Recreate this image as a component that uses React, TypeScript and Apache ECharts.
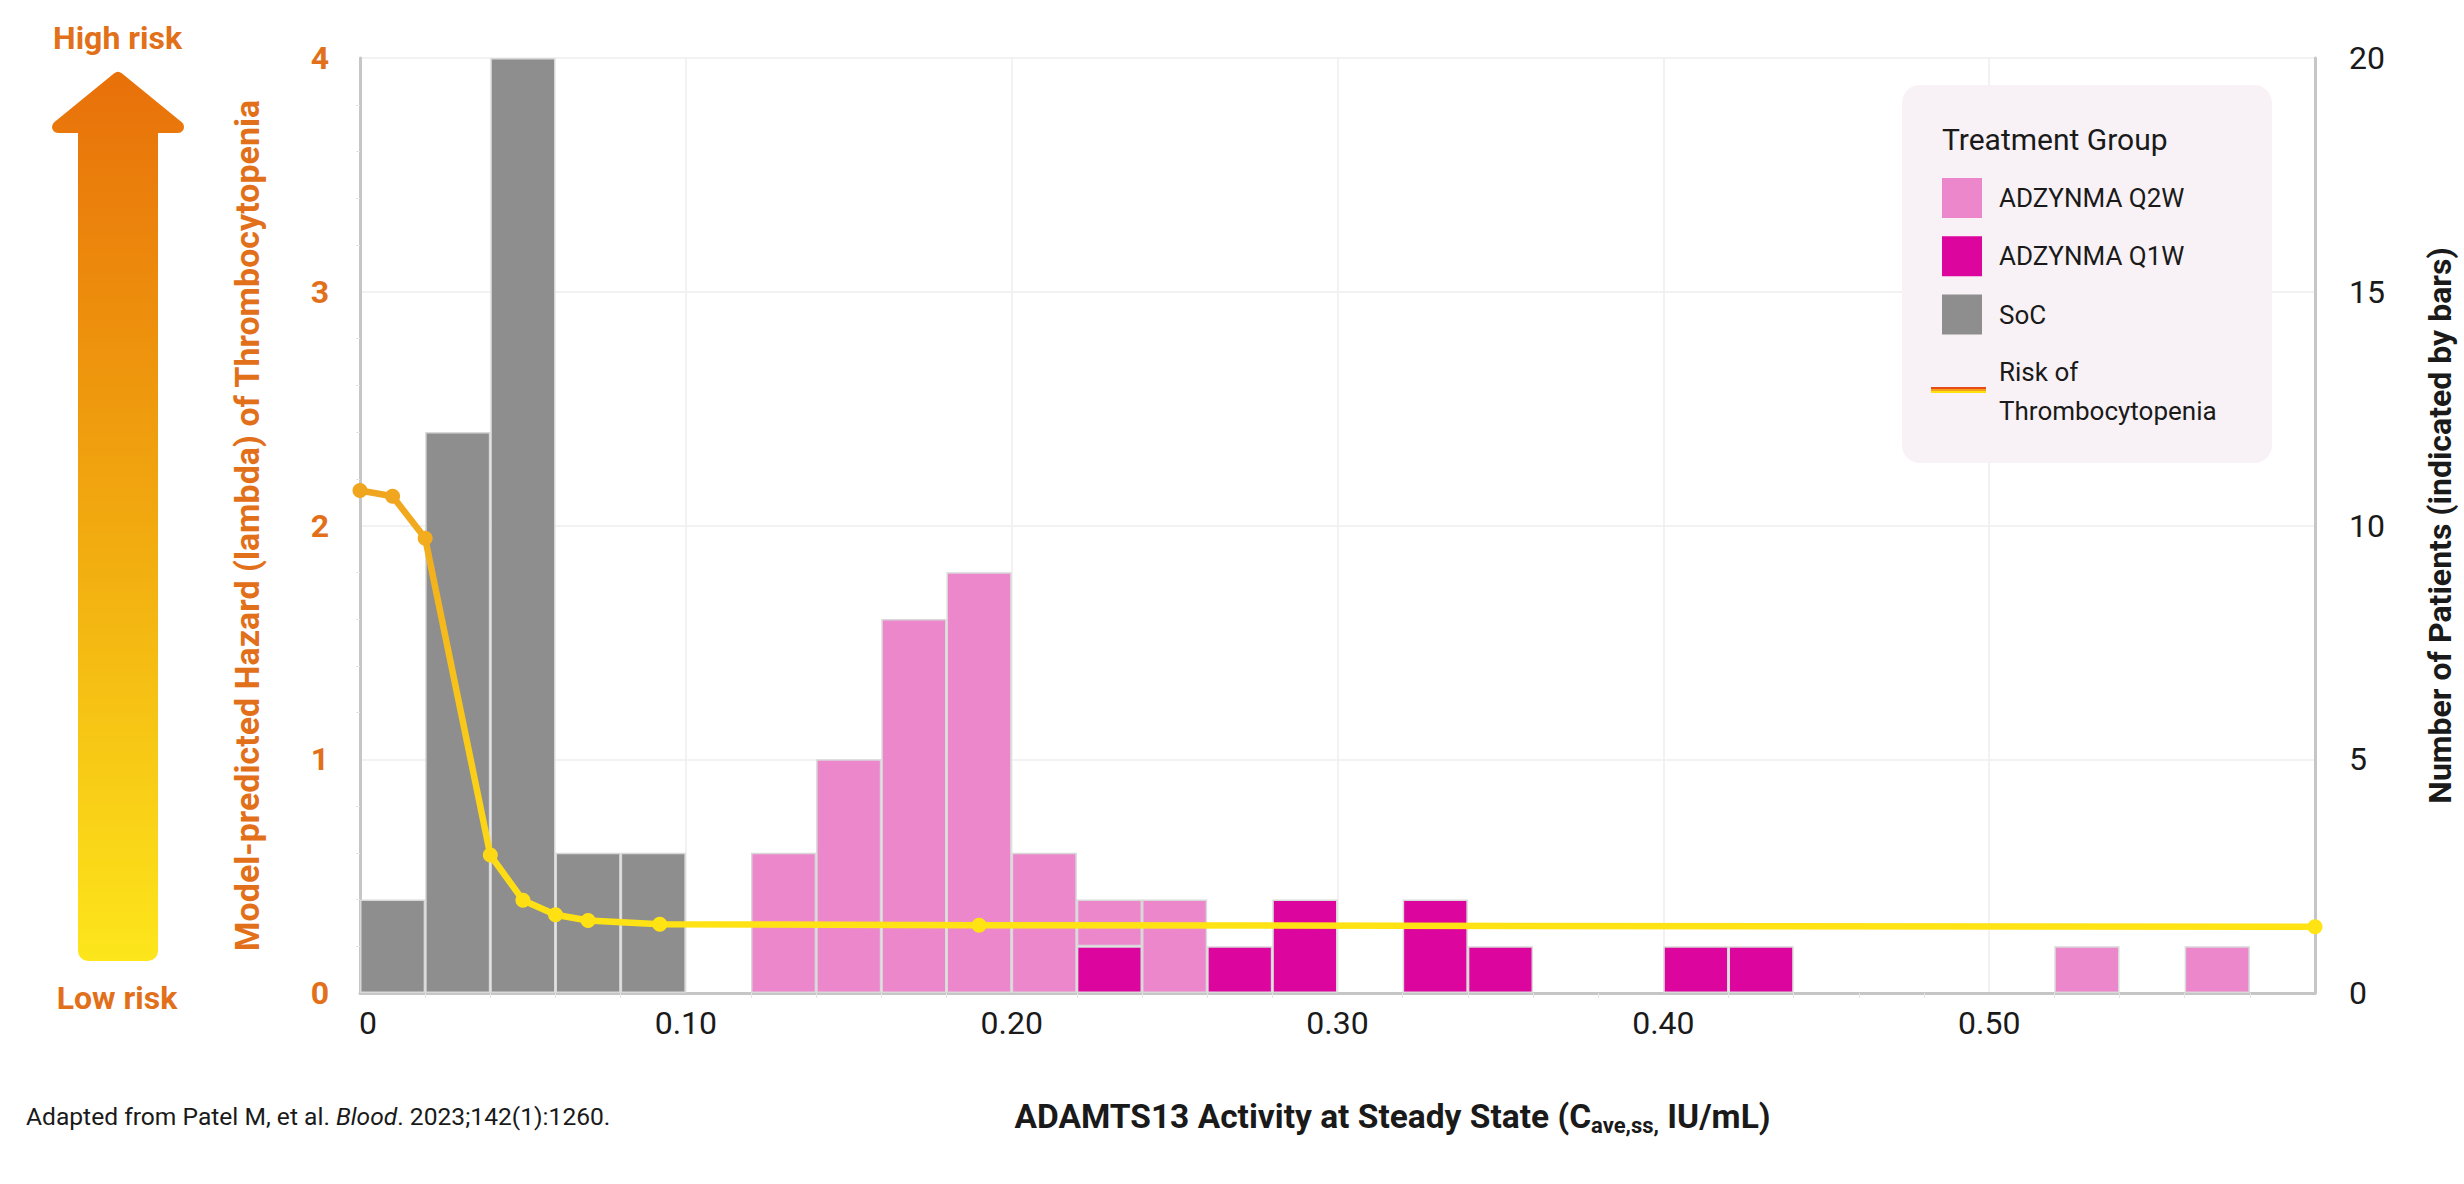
import React, { useEffect, useRef } from 'react';
import * as echarts from 'echarts';

// ---------- data ----------
// histogram bins of width 0.02 (bin start values)
const binStarts = [
  '0.00', '0.02', '0.04', '0.06', '0.08', '0.10', '0.12', '0.14', '0.16', '0.18',
  '0.20', '0.22', '0.24', '0.26', '0.28', '0.30', '0.32', '0.34', '0.36', '0.38',
  '0.40', '0.42', '0.44', '0.46', '0.48', '0.50', '0.52', '0.54', '0.56', '0.58',
];
const socCounts = [
  2, 12, 20, 3, 3, null, null, null, null, null,
  null, null, null, null, null, null, null, null, null, null,
  null, null, null, null, null, null, null, null, null, null,
];
const q1wCounts = [
  null, null, null, null, null, null, null, null, null, null,
  null, 1, null, 1, 2, null, 2, 1, null, null,
  1, 1, null, null, null, null, null, null, null, null,
];
const q2wCounts = [
  null, null, null, null, null, null, 3, 5, 8, 9,
  3, 1, 2, null, null, null, null, null, null, null,
  null, null, null, null, null, null, 1, null, 1, null,
];
const hazardX = [0, 0.01, 0.02, 0.04, 0.05, 0.06, 0.07, 0.092, 0.19, 0.6];
const hazardY = [2.15, 2.125, 1.945, 0.59, 0.397, 0.335, 0.31, 0.294, 0.29, 0.283];

const seriesNames = ['ADZYNMA Q2W', 'ADZYNMA Q1W', 'SoC', 'Risk of Thrombocytopenia'];

// ---------- styles ----------
const FONT = 'Roboto, "Noto Sans", "DejaVu Sans", sans-serif';
const ORANGE = '#E2701A';
const INK = '#1a1a1a';
const C_Q2W = '#EC87CC';
const C_Q1W = '#DC069E';
const C_SOC = '#8E8E8E';
const BAR_BORDER = '#D8D8D8';
const AXIS_LINE = '#C6C6C6';
const GRID_LINE = '#EEEEEE';

const arrowGradient = () =>
  new echarts.graphic.LinearGradient(
    0, 70, 0, 961,
    [
      { offset: 0, color: '#E8700A' },
      { offset: 0.5, color: '#F1A80F' },
      { offset: 1, color: '#FDE61B' },
    ],
    true
  );

const legendLineGradient = () =>
  new echarts.graphic.LinearGradient(0, 0, 0, 1, [
    { offset: 0, color: '#E64C1A' },
    { offset: 0.33, color: '#E64C1A' },
    { offset: 0.34, color: '#F5A018' },
    { offset: 0.66, color: '#F5A018' },
    { offset: 0.67, color: '#FFE010' },
    { offset: 1, color: '#FFE010' },
  ]);

function buildOption() {
  const barSeries = (name: string, data: (number | null)[], color: string) => ({
    name,
    type: 'bar',
    xAxisIndex: 1,
    yAxisIndex: 1,
    stack: 'patients',
    barCategoryGap: '0%',
    data,
    itemStyle: { color, borderColor: BAR_BORDER, borderWidth: 1.5 },
    emphasis: { disabled: true },
    z: 2,
  });

  return {
    animation: false,
    backgroundColor: '#ffffff',
    textStyle: { fontFamily: FONT },
    grid: { left: 360, right: 148, top: 58, bottom: 191, containLabel: false },
    visualMap: {
      type: 'continuous',
      show: false,
      seriesIndex: 3,
      dimension: 1,
      min: 0.28,
      max: 2.15,
      inRange: { color: ['#FFE313', '#F8C61A', '#F0A51E'] },
    },
    legend: {
      orient: 'vertical',
      left: 1942,
      top: 178,
      padding: 0,
      itemWidth: 40,
      itemHeight: 40,
      itemGap: 18.3,
      selectedMode: false,
      itemStyle: { borderWidth: 0 },
      textStyle: {
        fontFamily: FONT,
        fontSize: 26,
        color: INK,
        lineHeight: 39,
        padding: [0, 0, 0, 12],
      },
      formatter: (n: string) => (n === 'Risk of Thrombocytopenia' ? 'Risk of\nThrombocytopenia' : n),
      data: [
        { name: seriesNames[0], icon: 'rect' },
        { name: seriesNames[1], icon: 'rect' },
        { name: seriesNames[2], icon: 'rect' },
        { name: seriesNames[3], icon: 'rect', itemStyle: { color: '#ffffff', opacity: 0, borderWidth: 0 } },
      ],
    },
    xAxis: [
      {
        type: 'value',
        min: 0,
        max: 0.6,
        interval: 0.1,
        position: 'bottom',
        axisLine: { show: true, lineStyle: { color: AXIS_LINE, width: 3 } },
        axisTick: { show: false },
        minorTick: { show: true, splitNumber: 5, length: 5, lineStyle: { color: '#E4E4E4', width: 1 } },
        splitLine: { show: true, lineStyle: { color: GRID_LINE, width: 1.5 } },
        axisLabel: {
          show: true,
          showMaxLabel: false,
          margin: 14,
          fontSize: 32,
          color: INK,
          fontFamily: FONT,
          formatter: (v: number) => (v === 0 ? '{z|0}' : v.toFixed(2)),
          rich: { z: { fontSize: 32, color: INK, fontFamily: FONT, padding: [0, 0, 0, 16] } },
        },
        name: '{b|ADAMTS13 Activity at Steady State (C}{s|ave,ss,}{b| IU/mL)}',
        nameLocation: 'middle',
        nameGap: 103,
        nameTextStyle: {
          fontFamily: FONT,
          fontSize: 33.5,
          fontWeight: 'bold',
          color: INK,
          padding: [0, 0, 0, 110],
          rich: {
            b: { fontFamily: FONT, fontSize: 33.5, fontWeight: 'bold', color: INK, lineHeight: 40 },
            s: { fontFamily: FONT, fontSize: 22, fontWeight: 'bold', color: INK, lineHeight: 22, verticalAlign: 'bottom' },
          },
        },
      },
      {
        type: 'category',
        data: binStarts,
        show: false,
        boundaryGap: true,
      },
    ],
    yAxis: [
      {
        type: 'value',
        min: 0,
        max: 4,
        interval: 1,
        position: 'left',
        axisLine: { show: true, lineStyle: { color: AXIS_LINE, width: 3 } },
        axisTick: { show: false },
        minorTick: { show: true, splitNumber: 5, length: 4, lineStyle: { color: '#E4E4E4', width: 1 } },
        splitLine: { show: true, lineStyle: { color: GRID_LINE, width: 1.5 } },
        axisLabel: { margin: 31, fontSize: 32, fontWeight: 'bold', color: ORANGE, fontFamily: FONT },
        name: 'Model-predicted Hazard (lambda) of Thrombocytopenia',
        nameLocation: 'middle',
        nameRotate: 90,
        nameGap: 96,
        nameTextStyle: { fontFamily: FONT, fontSize: 34, fontWeight: 'bold', color: ORANGE },
      },
      {
        type: 'value',
        min: 0,
        max: 20,
        interval: 5,
        position: 'right',
        axisLine: { show: true, lineStyle: { color: AXIS_LINE, width: 3 } },
        axisTick: { show: false },
        splitLine: { show: false },
        axisLabel: { margin: 34, fontSize: 32, color: INK, fontFamily: FONT },
        name: 'Number of Patients (indicated by bars)',
        nameLocation: 'middle',
        nameRotate: 90,
        nameGap: 109,
        nameTextStyle: { fontFamily: FONT, fontSize: 32, fontWeight: 'bold', color: INK },
      },
    ],
    series: [
      barSeries(seriesNames[2], socCounts, C_SOC),
      barSeries(seriesNames[1], q1wCounts, C_Q1W),
      barSeries(seriesNames[0], q2wCounts, C_Q2W),
      {
        name: seriesNames[3],
        type: 'line',
        xAxisIndex: 0,
        yAxisIndex: 0,
        data: hazardX.map((x, i) => [x, hazardY[i]]),
        symbol: 'circle',
        symbolSize: 15,
        showSymbol: true,
        lineStyle: { width: 6.5 },
        emphasis: { disabled: true },
        clip: false,
        z: 5,
      },
    ],
    graphic: {
      elements: [
        // legend panel
        {
          type: 'rect',
          silent: true,
          z: 1,
          shape: { x: 1902, y: 85, width: 370, height: 378, r: 18 },
          style: { fill: '#F8F2F6' },
        },
        {
          type: 'text',
          silent: true,
          z: 10,
          x: 1942,
          y: 139,
          style: { text: 'Treatment Group', fontFamily: FONT, fontSize: 30, fill: INK, verticalAlign: 'middle', align: 'left' },
        },
        // legend key for the risk line
        {
          type: 'rect',
          silent: true,
          z: 10,
          shape: { x: 1931, y: 387, width: 55, height: 6 },
          style: { fill: legendLineGradient() },
        },
        // risk arrow
        {
          type: 'rect',
          silent: true,
          z: 1,
          shape: { x: 78, y: 125, width: 80, height: 836, r: [0, 0, 10, 10] },
          style: { fill: arrowGradient() },
        },
        {
          type: 'polygon',
          silent: true,
          z: 1,
          shape: { points: [[118, 78], [178, 127], [58, 127]] },
          style: { fill: arrowGradient(), stroke: arrowGradient(), lineWidth: 12, lineJoin: 'round' },
        },
        {
          type: 'text',
          silent: true,
          z: 10,
          x: 117.5,
          y: 38,
          style: { text: 'High risk', fontFamily: FONT, fontSize: 32, fontWeight: 'bold', fill: ORANGE, align: 'center', verticalAlign: 'middle' },
        },
        {
          type: 'text',
          silent: true,
          z: 10,
          x: 117,
          y: 998,
          style: { text: 'Low risk', fontFamily: FONT, fontSize: 32, fontWeight: 'bold', fill: ORANGE, align: 'center', verticalAlign: 'middle' },
        },
        // footnote
        {
          type: 'text',
          silent: true,
          z: 10,
          x: 26,
          y: 1116,
          style: {
            text: '{n|Adapted from Patel M, et al. }{i|Blood}{n|. 2023;142(1):1260.}',
            verticalAlign: 'middle',
            align: 'left',
            rich: {
              n: { fontFamily: FONT, fontSize: 24.6, fill: INK },
              i: { fontFamily: FONT, fontSize: 24.6, fontStyle: 'italic', fill: INK },
            },
          },
        },
      ],
    },
  };
}

export default function App() {
  const ref = useRef<HTMLDivElement>(null);
  useEffect(() => {
    if (!ref.current) return;
    const chart = echarts.init(ref.current, null, { renderer: 'svg' });
    chart.setOption(buildOption() as any);
    return () => {
      chart.dispose();
    };
  }, []);
  return (
    <div
      ref={ref}
      style={{ position: 'fixed', left: 0, top: 0, width: 2464, height: 1184, background: '#ffffff' }}
    />
  );
}
